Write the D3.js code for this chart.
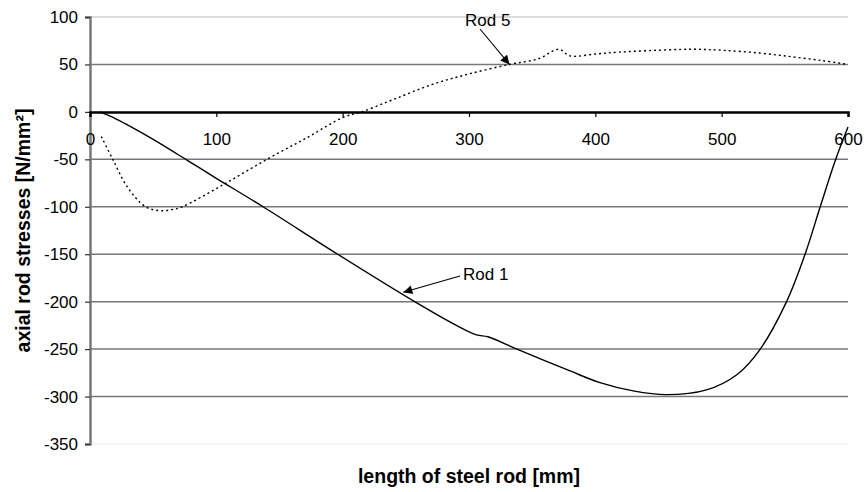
<!DOCTYPE html>
<html>
<head>
<meta charset="utf-8">
<script src="https://cdn.jsdelivr.net/npm/d3@7"></script>
<style>
  html, body { margin: 0; padding: 0; background: #fff; }
  svg { display: block; font-family: "Liberation Sans", Arial, sans-serif; }
</style>
</head>
<body>
<svg id="chart" width="866" height="492"></svg>
<script>
// Axial stresses along the steel rod, two rods
const rod1X = [8, 20, 30, 50, 77, 100, 137, 196, 257, 290, 306, 315, 338, 380, 403, 430, 456, 488, 512, 530, 551, 566, 578, 590, 600];
const rod1Y = [0, -7, -14, -29, -51, -70, -100, -150, -200, -225, -235, -237, -250, -273, -285, -294, -298, -293, -277, -251, -201, -150, -100, -51, -16];

const rod5X = [9, 18, 30, 44, 55, 65, 73, 105, 140, 172, 200, 215, 240, 271, 300, 332, 355, 371, 380, 400, 419, 450, 477, 500, 530, 556, 580, 600];
const rod5Y = [-26, -50, -80, -100, -104, -103, -100, -77, -50, -27, -6, 0, 13, 29, 40, 50, 56, 66, 59, 61, 63, 65, 66, 65, 62, 58, 54, 50];

const xTicks = [0, 100, 200, 300, 400, 500, 600];
const yTicks = [100, 50, 0, -50, -100, -150, -200, -250, -300, -350];

const seriesNames = ["Rod 1", "Rod 5"];
const xTitle = "length of steel rod [mm]";
const yTitle = "axial rod stresses [N/mm²]";

const svg = d3.select("#chart");
const plotL = 90, plotR = 848, plotT = 17, plotB = 444;
const font = "Liberation Sans, Arial, sans-serif";
const plain = d => String(d);

const x = d3.scaleLinear().domain([0, 600]).range([plotL, plotR]);
const y = d3.scaleLinear().domain([-350, 100]).range([plotB, plotT]);

// horizontal gridlines
svg.append("g").selectAll("line").data(yTicks.filter(d => d !== 0)).join("line")
  .attr("x1", plotL).attr("x2", plotR)
  .attr("y1", d => y(d)).attr("y2", d => y(d))
  .attr("stroke", d => d === 100 ? "#cfcfcf" : d === -350 ? "#f2f2f2" : "#777")
  .attr("stroke-width", 1.5);

// y axis
const yAxis = d3.axisLeft(y).tickValues(yTicks).tickSize(5).tickPadding(7).tickFormat(plain);
const gy = svg.append("g").attr("transform", `translate(${plotL},0)`).call(yAxis);
gy.select(".domain").attr("stroke", "#777").attr("stroke-width", 2.5);
gy.selectAll(".tick line").attr("stroke", "#333").attr("stroke-width", 1.2);
gy.selectAll("text").attr("font-size", 17).attr("fill", "#000").attr("font-family", font);

// x axis along the zero line
const xAxis = d3.axisBottom(x).tickValues(xTicks).tickSize(5).tickPadding(16).tickFormat(plain);
const gx = svg.append("g").attr("transform", `translate(0,${y(0)})`).call(xAxis);
gx.select(".domain").attr("stroke", "#000").attr("stroke-width", 2.5);
gx.selectAll(".tick line").attr("stroke", "#000").attr("stroke-width", 1.2);
gx.selectAll("text").attr("font-size", 17).attr("fill", "#000").attr("font-family", font);

// curves
const rod1 = rod1X.map((v, i) => [v, rod1Y[i]]);
const rod5 = rod5X.map((v, i) => [v, rod5Y[i]]);
const line = d3.line().x(d => x(d[0])).y(d => y(d[1])).curve(d3.curveCatmullRom.alpha(0.5));

svg.append("path").attr("d", line(rod5)).attr("fill", "none")
  .attr("stroke", "#000").attr("stroke-width", 1.4).attr("stroke-dasharray", "2,3");
svg.append("path").attr("d", line(rod1)).attr("fill", "none")
  .attr("stroke", "#000").attr("stroke-width", 1.4);

// arrow marker
svg.append("defs").append("marker")
  .attr("id", "arrow").attr("viewBox", "0 0 10 10").attr("refX", 10).attr("refY", 5)
  .attr("markerWidth", 10).attr("markerHeight", 9).attr("markerUnits", "userSpaceOnUse")
  .attr("orient", "auto")
  .append("path").attr("d", "M0,0 L10,5 L0,10 z").attr("fill", "#000");

// series callouts
const callouts = [
  { name: seriesNames[0], tx: 463, ty: 280, from: [460, 276], at: [248, -190] },
  { name: seriesNames[1], tx: 465, ty: 26, from: [480, 29], at: [332, 50] }
];
callouts.forEach(c => {
  svg.append("line")
    .attr("x1", c.from[0]).attr("y1", c.from[1])
    .attr("x2", x(c.at[0])).attr("y2", y(c.at[1]))
    .attr("stroke", "#000").attr("stroke-width", 1.1).attr("marker-end", "url(#arrow)");
  svg.append("text").attr("x", c.tx).attr("y", c.ty)
    .attr("font-size", 17).attr("font-family", font).text(c.name);
});

// axis titles
svg.append("text").attr("x", (plotL + plotR) / 2).attr("y", 483)
  .attr("text-anchor", "middle").attr("font-size", 19.5).attr("font-weight", "bold")
  .attr("font-family", font).text(xTitle);
svg.append("text").attr("transform", `translate(30,${(plotT + plotB) / 2}) rotate(-90)`)
  .attr("text-anchor", "middle").attr("font-size", 19.5).attr("font-weight", "bold")
  .attr("font-family", font).text(yTitle);
</script>
</body>
</html>
